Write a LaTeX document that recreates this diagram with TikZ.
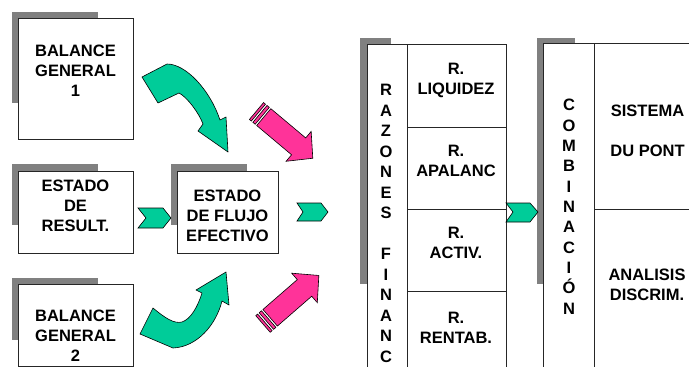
\documentclass[tikz,border=0pt]{standalone}
\usepackage{fontspec}
\setmainfont{Liberation Sans}
\definecolor{tealA}{HTML}{00CC99}
\definecolor{pinkA}{HTML}{FF3399}
\definecolor{shadeA}{HTML}{808080}
\begin{document}
\begin{tikzpicture}[x=1pt,y=-1pt,
  box/.style={draw=black!85, line width=0.9pt, fill=white, inner sep=0pt},
  shadowbox/.style={fill=shadeA, draw=none, inner sep=0pt},
  panel/.style={draw=black!85, line width=0.9pt, fill=white, inner sep=0pt},
  divider/.style={draw=black!85, line width=0.9pt},
  lbl/.style={font=\bfseries\fontsize{16.5}{20}\selectfont, align=center, inner sep=0pt, anchor=north},
  letter/.style={font=\bfseries\fontsize{16.5}{20}\selectfont, inner sep=0pt, anchor=base},
  bent/.style={fill=tealA, draw=black, line width=0.6pt, line join=round},
  chev/.style={fill=tealA, draw=black, line width=0.6pt, line join=miter},
  striped/.style={fill=pinkA, draw=black, line width=0.6pt, line join=miter}]
\useasboundingbox (0,0) rectangle (689,367);
\clip (0,0) rectangle (689,367);

% shadows
\node[shadowbox, minimum width=86pt, minimum height=91pt] (s1) at (55,57.5) {};
\node[shadowbox, minimum width=86pt, minimum height=61pt] (s2) at (55,194.5) {};
\node[shadowbox, minimum width=76pt, minimum height=61pt] (s3) at (209,194.5) {};
\node[shadowbox, minimum width=86pt, minimum height=62pt] (s4) at (55,309) {};
\node[shadowbox, minimum width=31pt, minimum height=246pt] (sp1) at (375.5,161) {};
\node[shadowbox, minimum width=38pt, minimum height=246pt] (sp2) at (556,161) {};

% boxes
\node[box, minimum width=115pt, minimum height=121pt] (b1) at (75.5,78.5) {};
\node[box, minimum width=115pt, minimum height=82pt] (b2) at (75.5,212) {};
\node[box, minimum width=101pt, minimum height=82pt] (b3) at (227.5,212) {};
\node[box, minimum width=115pt, minimum height=82pt] (b4) at (75.5,325) {};

% panels
\node[panel, minimum width=139pt, minimum height=336pt] (p1) at (436.5,212) {};
\draw[divider] (407,44) -- (407,380);
\draw[divider] (407,127) -- (506,127);
\draw[divider] (407,209) -- (506,209);
\draw[divider] (407,291) -- (506,291);
\node[panel, minimum width=157pt, minimum height=337pt] (p2) at (621.5,211.5) {};
\draw[divider] (594,43) -- (594,380);
\draw[divider] (594,209) -- (700,209);

% texts
\node[lbl] (t1) at (75.5,44.3) {BALANCE\\GENERAL\\1};
\node[lbl] (t2) at (75.5,180) {ESTADO\\DE\\RESULT.};
\node[lbl] (t3) at (227.5,189.3) {ESTADO\\DE FLUJO\\EFECTIVO};
\node[lbl] (t4) at (75.5,310) {BALANCE\\GENERAL\\2};
\node[lbl] (r1) at (456,63.3) {R.\\LIQUIDEZ};
\node[lbl] (r2) at (456,145) {R.\\APALANC};
\node[lbl] (r3) at (456,227.3) {R.\\ACTIV.};
\node[lbl] (r4) at (456,311.7) {R.\\RENTAB.};
\node[lbl] (c1) at (647.5,104.3) {SISTEMA\\[20pt]DU PONT};
\node[lbl] (c2) at (647,269) {ANALISIS\\DISCRIM.};

\foreach \ch/\yy [count=\i] in {R/90,A/110.5,Z/131,O/151.5,N/172,E/192.5,S/213,F/254,I/274.5,N/295,A/315.5,N/336,C/356.5}
  \node[letter] (raz\i) at (386,\yy+5.9) {\ch};
\foreach \ch/\yy [count=\i] in {C/105,O/125.3,M/145.6,B/166,I/186.3,N/206.6,A/227,C/247.3,I/267.6,Ó/287.9,N/308.2}
  \node[letter] (com\i) at (569,\yy+5.9) {\ch};

% chevrons
\draw[chev] (138,208) -- (163,208) -- (171,218) -- (163,228) -- (138,228) -- (146,218) -- cycle;
\draw[chev] (297,203) -- (321,203) -- (328,212) -- (321,221) -- (297,221) -- (303,212) -- cycle;
\draw[chev] (506,203) -- (530,203) -- (538,212) -- (530,222) -- (506,222) -- (513,212) -- cycle;

% bent arrows
\draw[bent] (142,77) -- (167,64) .. controls (186,64) and (210,90) .. (220,120) -- (226,117) -- (228,152) -- (198,131) -- (203,124) .. controls (199,113) and (187,97) .. (179,93) -- (158,103) -- cycle;
\draw[bent] (140,334) -- (153,308) .. controls (165,318) and (174,324) .. (182,322) .. controls (191,319) and (198,306) .. (202,293) -- (196,290) -- (226,272) -- (229,305) -- (222,301) .. controls (216,325) and (197,347) .. (173,348) -- cycle;

% striped arrows
\begin{scope}[shift={(256.5,111)}, rotate=-40]
  \draw[striped] (0,-11) rectangle (2.5,11);
  \draw[striped] (4.5,-11) rectangle (7.5,11);
  \draw[striped] (9.5,-11) -- (55,-11) -- (55,-19.5) -- (73.5,0) -- (55,19.5) -- (55,11) -- (9.5,11) -- cycle;
\end{scope}
\begin{scope}[shift={(263,324)}, rotate=41]
  \draw[striped] (0,-11) rectangle (2.5,11);
  \draw[striped] (4.5,-11) rectangle (7.5,11);
  \draw[striped] (9.5,-11) -- (55,-11) -- (55,-19.5) -- (74,0) -- (55,19.5) -- (55,11) -- (9.5,11) -- cycle;
\end{scope}
\end{tikzpicture}
\end{document}
